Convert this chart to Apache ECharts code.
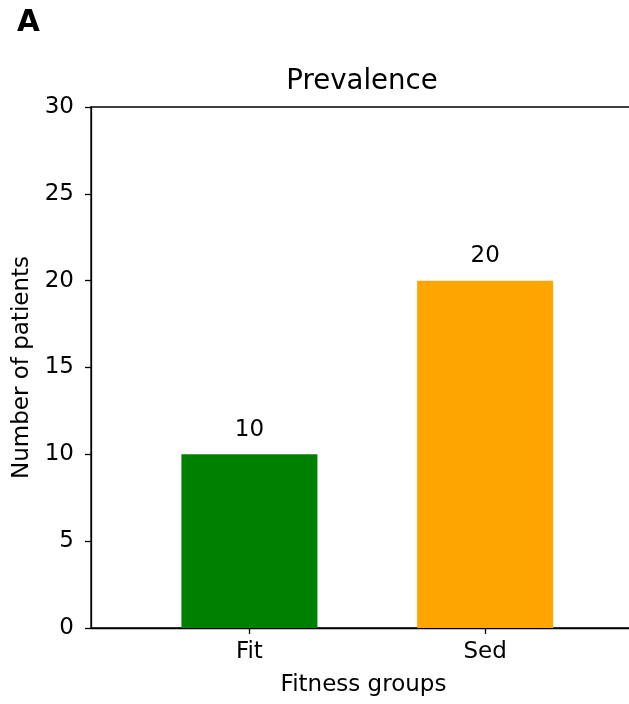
<!DOCTYPE html>
<html>
<head>
<meta charset="utf-8">
<script src="https://cdn.jsdelivr.net/npm/echarts@6/dist/echarts.min.js"></script>
<style>html,body{margin:0;padding:0;background:#fff;}#c{width:629px;height:704px;}</style>
</head>
<body>
<div id="c"></div>
<script>
const categories = ['Fit', 'Sed'];
const values = [10, 20];
const barColors = ['#008000', '#FFA500'];
const yTicks = [0, 5, 10, 15, 20, 25, 30];

const FONT = 'DejaVu Sans';
const FS = 23;
const chart = echarts.init(document.getElementById('c'), null, {renderer: 'canvas'});
chart.setOption({
  animation: false,
  textStyle: {fontFamily: FONT},
  title: [
    {text: 'Prevalence', left: 362, top: 68, textAlign: 'center', padding: 0,
     textStyle: {fontFamily: FONT, fontSize: 27.6, fontWeight: 'normal', color: '#000'}},
    {text: 'A', left: 17, top: 8, padding: 0,
     textStyle: {fontFamily: FONT, fontSize: 29.5, fontWeight: 'bold', color: '#000'}}
  ],
  grid: {left: 91, top: 107, width: 545, height: 521, show: true,
         outerBoundsMode: 'none', containLabel: false,
         borderColor: '#000', borderWidth: 1.3, backgroundColor: 'transparent'},
  xAxis: {
    type: 'value', min: -0.672, max: 1.640,
    name: 'Fitness groups', nameLocation: 'middle', nameGap: 45.5,
    nameTextStyle: {fontFamily: FONT, fontSize: FS, color: '#000'},
    axisLine: {show: true, onZero: false, lineStyle: {color: '#000', width: 1.3}},
    axisTick: {show: true, inside: false, length: 6, customValues: [0, 1], lineStyle: {color: '#000', width: 1.3}},
    axisLabel: {customValues: [0, 1], formatter: v => categories[Math.round(v)],
                fontFamily: FONT, fontSize: FS, color: '#000', margin: 13},
    splitLine: {show: false}
  },
  yAxis: {
    type: 'value', min: yTicks[0], max: yTicks[yTicks.length - 1], interval: 5,
    name: 'Number of patients', nameLocation: 'middle', nameGap: 55.5,
    nameTextStyle: {fontFamily: FONT, fontSize: FS, color: '#000'},
    axisLine: {show: true, onZero: false, lineStyle: {color: '#000', width: 1.3}},
    axisTick: {show: true, inside: false, length: 6, lineStyle: {color: '#000', width: 1.3}},
    axisLabel: {fontFamily: FONT, fontSize: FS, color: '#000', margin: 17},
    splitLine: {show: false}
  },
  series: [{
    type: 'bar',
    barWidth: 136,
    data: values.map((v, i) => ({value: [i, v], itemStyle: {color: barColors[i]}})),
    label: {show: true, position: 'top', distance: 13, formatter: p => p.value[1],
            fontFamily: FONT, fontSize: FS, color: '#000'}
  }]
});
</script>
</body>
</html>
